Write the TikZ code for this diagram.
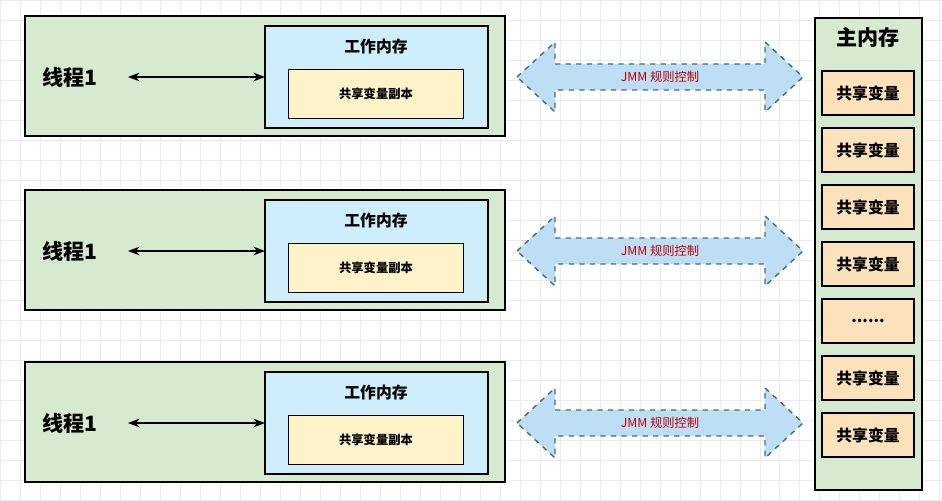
\documentclass[tikz,border=0pt]{standalone}
\usepackage{fontspec}
\setmainfont{Noto Sans CJK SC}
\usetikzlibrary{arrows.meta,positioning}
\definecolor{thrgreen}{RGB}{214,234,207}
\definecolor{wmblue}{RGB}{205,238,250}
\definecolor{varyellow}{RGB}{253,242,200}
\definecolor{mainvar}{RGB}{252,226,186}
\definecolor{jmmblue}{RGB}{190,222,246}
\definecolor{jmmline}{RGB}{70,110,110}
\newcommand{\vardots}{......}
\begin{document}
\begin{tikzpicture}[x=0.02cm,y=-0.02cm]
% Define styles
\tikzset{
  thread/.style={draw=black, thick, fill=thrgreen},
  workmem/.style={draw=black, thick, fill=wmblue},
  copyvar/.style={draw=black, thick, fill=varyellow, font=\scriptsize\bfseries},
  mainvar/.style={draw=black, thick, fill=mainvar, minimum width=1.84cm, minimum height=0.88cm, font=\small\bfseries},
  arrow/.style={Stealth-Stealth, thick},
  jmm/.style={draw=jmmline, dashed, thick, fill=jmmblue}
}
\useasboundingbox (0,0) rectangle (942,500);
\fill[white] (0,0) rectangle (942,500);
\draw[black!8, step=0.4cm] (0,0) grid (942,500);

% Threads
\foreach \i/\y in {1/0, 2/174, 3/346} {
  \draw[thread] (25,16+\y) rectangle (505,136+\y);
  \draw[workmem] (265,26+\y) rectangle (488,128+\y);
  \node[font=\small\bfseries] (wm\i) at (376,46+\y) {工作内存};
  \node[copyvar, minimum width=3.5cm, minimum height=0.98cm] (copy\i) at (376,94+\y) {共享变量副本};
  \node[font=\large\bfseries] (thr\i) at (70,77+\y) {线程1};
  \coordinate (a\i) at (128,77+\y);
  \coordinate (b\i) at (265,77+\y);
  \draw[arrow] (a\i) -- (b\i);
  % JMM arrow
  \draw[jmm] (517,77+\y) -- (555,42+\y) -- (555,64+\y) -- (765,64+\y) -- (765,42+\y)
    -- (803,77+\y) -- (765,112+\y) -- (765,90+\y) -- (555,90+\y) -- (555,112+\y) -- cycle;
  \node[text=red!75!black, font=\scriptsize] (jmm\i) at (660,77+\y) {JMM 规则控制};
}

% Main memory
\draw[thread] (815,18) rectangle (922,490);
\node[font=\large\bfseries] (main) at (868,37) {主内存};
\foreach \t [count=\k from 0] in {共享变量,共享变量,共享变量,共享变量,\vardots,共享变量,共享变量} {
  \node[mainvar] (var\k) at (868,93+57*\k) {\t};
}
\end{tikzpicture}
\end{document}
